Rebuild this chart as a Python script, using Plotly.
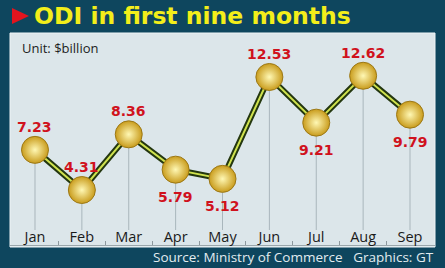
import plotly.graph_objects as go

months = ["Jan", "Feb", "Mar", "Apr", "May", "Jun", "Jul", "Aug", "Sep"]
odi = [7.23, 4.31, 8.36, 5.79, 5.12, 12.53, 9.21, 12.62, 9.79]
label_side = ["above", "above", "above", "below", "below", "above", "below", "above", "below"]

W, H = 445, 268
L, R, T, B = 10, 10, 33, 23
PW, PH = W - L - R, H - T - B

def px(x):
    return (x - L) / PW

def py(y):
    return (H - B - y) / PH

YMIN, YMAX = 0.31, 15.73
BASE = 1.40
xs = list(range(len(months)))

fig = go.Figure()

# drop lines
fig.add_trace(go.Scatter(
    x=xs, y=odi, mode="markers", marker=dict(size=1, color="rgba(0,0,0,0)"),
    error_y=dict(type="data", symmetric=False, array=[0] * len(odi),
                 arrayminus=[v - BASE for v in odi], color="#a9b6bc",
                 thickness=1, width=0),
    hoverinfo="skip", showlegend=False))

# line outline + inner stripe
fig.add_trace(go.Scatter(x=xs, y=odi, mode="lines",
                         line=dict(color="#24370f", width=6), showlegend=False))
fig.add_trace(go.Scatter(x=xs, y=odi, mode="lines",
                         line=dict(color="#cfe24e", width=2), showlegend=False))

# golden balls
fig.add_trace(go.Scatter(
    x=xs, y=odi, mode="markers",
    marker=dict(size=27, color="#c99c1c",
                gradient=dict(type="radial", color="#fff8b4"),
                line=dict(color="#9c7816", width=1)),
    showlegend=False))

annotations = []
for x, v, side in zip(xs, odi, label_side):
    annotations.append(dict(
        x=x, y=v, xref="x", yref="y", text=f"{v:.2f}", showarrow=False,
        yshift=23 if side == "above" else -27,
        font=dict(family="DejaVu Sans", size=14, color="#d0121d", weight="bold")))

annotations += [
    dict(x=px(32), y=py(16), xref="paper", yref="paper", xanchor="left", yanchor="middle",
         text="ODI in first nine months", showarrow=False,
         font=dict(family="DejaVu Sans", size=23.5, color="#f3ee1a", weight="bold")),
    dict(x=px(20), y=py(48), xref="paper", yref="paper", xanchor="left", yanchor="middle",
         text="Unit: $billion", showarrow=False,
         font=dict(family="Open Sans", size=13, color="#1d1d1d")),
    dict(x=px(436), y=py(257), xref="paper", yref="paper", xanchor="right", yanchor="middle",
         text="Source: Ministry of Commerce&nbsp;&nbsp;&nbsp;Graphics: GT", showarrow=False,
         font=dict(family="Open Sans", size=13.5, color="#e2ecf0")),
]

shapes = [
    dict(type="rect", xref="paper", yref="paper", x0=px(10), x1=px(435), y0=py(247), y1=py(33),
         fillcolor="#dce6ea", line=dict(color="#eef4f6", width=1), layer="below"),
    dict(type="path", xref="paper", yref="paper",
         path=f"M {px(12)},{py(8)} L {px(29)},{py(16)} L {px(12)},{py(24)} Z",
         fillcolor="#e2141e", line=dict(width=0)),
]

fig.update_layout(
    width=W, height=H,
    margin=dict(l=L, r=R, t=T, b=B),
    paper_bgcolor="#0e465e",
    plot_bgcolor="rgba(0,0,0,0)",
    showlegend=False,
    annotations=annotations,
    shapes=shapes,
    xaxis=dict(range=[-0.533, 8.533], tickmode="array", tickvals=xs, ticktext=months,
               ticklabelposition="inside", ticks="", showgrid=False, zeroline=False,
               showline=True, linecolor="#9aa6ab", linewidth=1,
               tickfont=dict(family="Open Sans", size=14.5, color="#1a1a1a"),
               minor=dict(tickmode="array", tickvals=[i + 0.5 for i in xs[:-1]],
                          ticks="inside", ticklen=4, tickcolor="#8d989d", showgrid=False)),
    yaxis=dict(range=[YMIN, YMAX], visible=False, showgrid=False, zeroline=False),
)

fig.write_html("out.html")
